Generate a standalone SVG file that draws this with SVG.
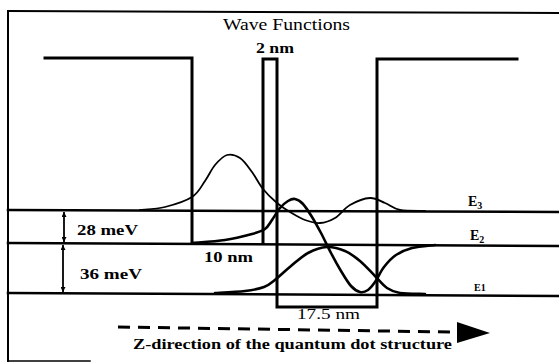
<svg xmlns="http://www.w3.org/2000/svg" width="559" height="362" viewBox="0 0 559 362">
<style>
.ln{fill:none;stroke:#000;stroke-linecap:square;stroke-linejoin:miter}
.pot{stroke-width:3}
.lev{stroke-width:2.5}
.wf{fill:none;stroke:#000;stroke-linecap:round;stroke-linejoin:round}
text{font-family:'Liberation Serif','DejaVu Serif','Noto Serif',serif;fill:#000}
</style>
<defs>
<marker id="ah" viewBox="0 0 10 10" refX="10" refY="5" markerWidth="5" markerHeight="5" orient="auto-start-reverse" markerUnits="userSpaceOnUse">
<path d="M0,0 L10,5 L0,10 z" fill="#000"/>
</marker>
</defs>
<rect width="559" height="362" fill="#fff"/>
<g id="frame">
<path class="ln" stroke-width="2" d="M8,11 L559,13"/>
<path class="ln" stroke-width="2" d="M8,11 V361"/>
<path class="ln" stroke-width="1.5" d="M8,361 H90"/>
</g>
<g id="potential">
<path class="ln pot" d="M45,58 H192 V243"/>
<path class="ln pot" d="M263,243 V59 H277 V307 H377 V59 H517"/>
</g>
<g id="levels">
<path class="ln lev" d="M8,210 L559,212"/>
<path class="ln lev" d="M8,243 L559,246"/>
<path class="ln lev" d="M8,293 L559,296"/>
</g>
<g id="energy-arrows">
<line x1="64" y1="212" x2="64" y2="242" stroke="#000" stroke-width="1.8" marker-start="url(#ah)" marker-end="url(#ah)"/>
<line x1="63" y1="245" x2="63" y2="292" stroke="#000" stroke-width="1.8" marker-start="url(#ah)" marker-end="url(#ah)"/>
</g>
<g id="wavefunctions">
<path id="psi3" class="wf" stroke-width="1.8" d="M140,210 C144.2,209.5 156.3,209.2 165,207 C173.7,204.8 185.3,201.3 192,197 C198.7,192.7 201.2,186.3 205,181 C208.8,175.7 211.3,169.3 215,165 C218.7,160.7 222.8,156.2 227,155 C231.2,153.8 235.8,155.2 240,158 C244.2,160.8 248.2,166.8 252,172 C255.8,177.2 258.8,183.8 263,189 C267.2,194.2 272.5,199.2 277,203 C281.5,206.8 285.3,209.2 290,212 C294.7,214.8 300,218.2 305,220 C310,221.8 315,223.3 320,223 C325,222.7 330,221 335,218 C340,215 344.2,208.3 350,205 C355.8,201.7 364.2,198.3 370,198 C375.8,197.7 380,201 385,203 C390,205 393.3,208.7 400,210 C406.7,211.3 420.8,210.8 425,211"/>
<path id="psi2" class="wf" stroke-width="2.6" d="M192,243 C197.5,242.5 215,241.5 225,240 C235,238.5 245.3,235.8 252,234 C258.7,232.2 261.7,231.3 265,229 C268.3,226.7 269.5,223.5 272,220 C274.5,216.5 277.3,211.2 280,208 C282.7,204.8 285.5,202.5 288,201 C290.5,199.5 292.5,198.5 295,199 C297.5,199.5 300.2,201 303,204 C305.8,207 309,212.2 312,217 C315,221.8 317.8,227 321,233 C324.2,239 327.7,246.7 331,253 C334.3,259.3 337.7,265.5 341,271 C344.3,276.5 347.8,282.5 351,286 C354.2,289.5 357.2,291.3 360,292 C362.8,292.7 365.5,291.7 368,290 C370.5,288.3 372.3,285.8 375,282 C377.7,278.2 380.5,271.5 384,267 C387.5,262.5 391.3,258.2 396,255 C400.7,251.8 405.5,249.7 412,248 C418.5,246.3 431.2,245.5 435,245"/>
<path id="psi1" class="wf" stroke-width="2.6" d="M215,293 C220,292.7 236.8,292 245,291 C253.2,290 258.8,289 264,287 C269.2,285 271.5,282.5 276,279 C280.5,275.5 285.7,270.3 291,266 C296.3,261.7 302,256.2 308,253 C314,249.8 320.8,247.3 327,247 C333.2,246.7 339.5,248.7 345,251 C350.5,253.3 355,256.8 360,261 C365,265.2 370.5,271.5 375,276 C379.5,280.5 382.8,285.2 387,288 C391.2,290.8 393.7,292 400,293 C406.3,294 420.8,293.8 425,294"/>
</g>
<g id="z-arrow">
<path d="M118,327 L450,332" fill="none" stroke="#000" stroke-width="3" stroke-dasharray="12 8"/>
<polygon points="457,322 490,333 457,343" fill="#000"/>
</g>
<g id="labels">
<text x="223" y="30" font-size="16" textLength="127" lengthAdjust="spacingAndGlyphs">Wave Functions</text>
<text x="256" y="53" font-size="15" font-weight="bold" textLength="38" lengthAdjust="spacingAndGlyphs">2 nm</text>
<text x="77" y="235" font-size="15" font-weight="bold" textLength="61" lengthAdjust="spacingAndGlyphs">28 meV</text>
<text x="80" y="279" font-size="15" font-weight="bold" textLength="62" lengthAdjust="spacingAndGlyphs">36 meV</text>
<text x="204" y="262" font-size="15" font-weight="bold" textLength="49" lengthAdjust="spacingAndGlyphs">10 nm</text>
<text x="297" y="319" font-size="15" textLength="63" lengthAdjust="spacingAndGlyphs">17.5 nm</text>
<text x="133" y="349" font-size="15" font-weight="bold" textLength="319" lengthAdjust="spacingAndGlyphs">Z-direction of the quantum dot structure</text>
<text x="468" y="206" font-size="14" font-weight="bold">E<tspan font-size="10" dy="3">3</tspan></text>
<text x="470" y="240" font-size="14" font-weight="bold">E<tspan font-size="10" dy="3">2</tspan></text>
<text x="474" y="291" font-size="10" font-weight="bold">E1</text>
</g>
</svg>
